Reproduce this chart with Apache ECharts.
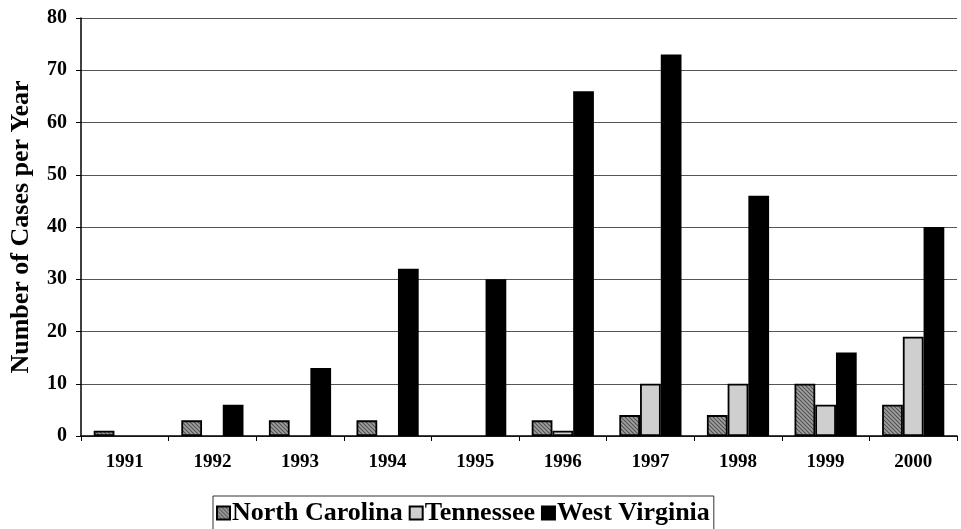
<!DOCTYPE html>
<html>
<head>
<meta charset="utf-8">
<script src="https://cdn.jsdelivr.net/npm/echarts@6/dist/echarts.min.js"></script>
<style>
  html, body { margin: 0; padding: 0; background: #fff; }
  #chart { width: 961px; height: 529px; }
</style>
</head>
<body>
<div id="chart"></div>
<script>
const years = ['1991', '1992', '1993', '1994', '1995', '1996', '1997', '1998', '1999', '2000']
const northCarolina = [1, 3, 3, 3, 0, 3, 4, 4, 10, 6]
const tennessee = [0, 0, 0, 0, 0, 1, 10, 10, 6, 19]
const westVirginia = [0, 6, 13, 32, 30, 66, 73, 46, 16, 40]
const yTicks = [0, 80, 10] // min, max, interval

const serif = '"Liberation Serif", "DejaVu Serif", serif'

// zero means no bar drawn
const bars = arr => arr.map(v => (v === 0 ? '-' : v))

// diagonal hatch for North Carolina bars
function hatch() {
  const c = document.createElement('canvas')
  c.width = 4
  c.height = 4
  const ctx = c.getContext('2d')
  ctx.fillStyle = '#a0a0a0'
  ctx.fillRect(0, 0, 4, 4)
  ctx.strokeStyle = '#505050'
  ctx.lineWidth = 1.1
  ctx.beginPath()
  ctx.moveTo(-1, -1)
  ctx.lineTo(5, 5)
  ctx.moveTo(-1, 3)
  ctx.lineTo(1, 5)
  ctx.moveTo(3, -1)
  ctx.lineTo(5, 1)
  ctx.stroke()
  return c
}

const chart = echarts.init(document.getElementById('chart'))

const barStyle = fill => ({
  color: fill,
  borderColor: '#000',
  borderWidth: 1.8,
})

chart.setOption({
  animation: false,
  backgroundColor: '#fff',
  grid: { left: 79, right: 4, top: 18, bottom: 93 },
  legend: {
    bottom: -1,
    left: 213,
    itemWidth: 13,
    itemHeight: 13,
    itemGap: 6,
    padding: [4, 4, 4, 3],
    borderColor: '#333',
    borderWidth: 1,
    textStyle: { fontFamily: serif, fontWeight: 'bold', fontSize: 26, color: '#000', padding: [0, 0, 0, -3] },
    data: [
      { name: 'North Carolina', icon: 'rect' },
      { name: 'Tennessee', icon: 'rect' },
      { name: 'West Virginia', icon: 'rect' },
    ],
  },
  xAxis: {
    type: 'category',
    data: years,
    axisLine: { lineStyle: { color: '#000', width: 1.5 } },
    axisTick: { show: true, length: 5, lineStyle: { color: '#000' } },
    axisLabel: { fontFamily: serif, fontWeight: 'bold', fontSize: 19, color: '#000', margin: 17 },
  },
  yAxis: {
    type: 'value',
    min: yTicks[0],
    max: yTicks[1],
    interval: yTicks[2],
    name: 'Number of Cases per Year',
    nameLocation: 'middle',
    nameGap: 47,
    nameTextStyle: { fontFamily: serif, fontWeight: 'bold', fontSize: 26, color: '#000' },
    axisLine: { show: true, lineStyle: { color: '#000', width: 1.5 } },
    axisTick: { show: true, length: 5, lineStyle: { color: '#000' } },
    axisLabel: { fontFamily: serif, fontWeight: 'bold', fontSize: 20, color: '#000', margin: 14 },
    splitLine: { lineStyle: { color: '#555', width: 1 } },
  },
  series: [
    {
      name: 'North Carolina',
      type: 'bar',
      data: bars(northCarolina),
      barGap: '0%',
      barCategoryGap: '29%',
      itemStyle: barStyle({ image: hatch(), repeat: 'repeat' }),
    },
    {
      name: 'Tennessee',
      type: 'bar',
      data: bars(tennessee),
      itemStyle: barStyle('#cfcfcf'),
    },
    {
      name: 'West Virginia',
      type: 'bar',
      data: bars(westVirginia),
      itemStyle: barStyle('#000'),
    },
  ],
})
</script>
</body>
</html>
